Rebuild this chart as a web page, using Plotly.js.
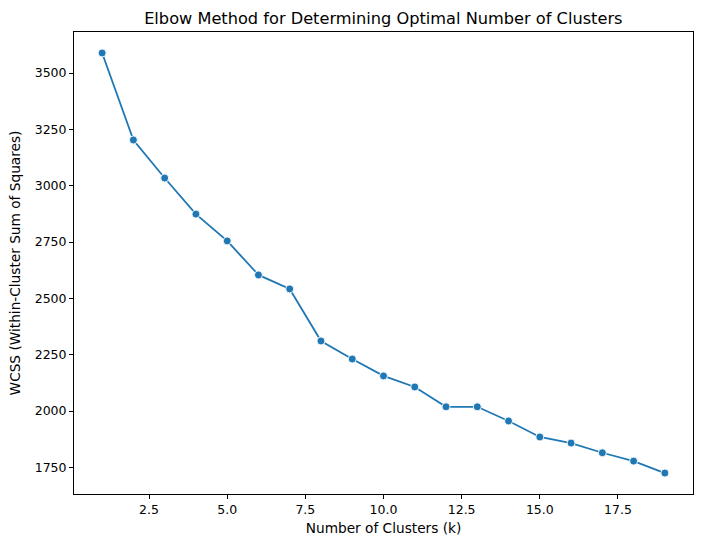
<!DOCTYPE html>
<html>
<head>
<meta charset="utf-8">
<script src="https://cdn.plot.ly/plotly-3.0.1.min.js"></script>
<style>html,body{margin:0;padding:0;background:#fff;}#chart{width:704px;height:547px;}</style>
</head>
<body>
<div id="chart"></div>
<script>
const clusters = [1,2,3,4,5,6,7,8,9,10,11,12,13,14,15,16,17,18,19];
const wcss = [3589,3203,3034,2874,2755,2604,2542,2311,2231,2156,2107,2019,2019,1956,1885,1858,1815,1778,1725];
const xTicks = [2.5,5.0,7.5,10.0,12.5,15.0,17.5];
const yTicks = [1750,2000,2250,2500,2750,3000,3250,3500];

const font = "DejaVu Sans, sans-serif";
const trace = {
  x: clusters, y: wcss, type: 'scatter', mode: 'lines+markers',
  line: {color: '#1f77b4', width: 1.8},
  marker: {color: '#1f77b4', size: 8, line: {color: '#ffffff', width: 0.9}},
  hoverinfo: 'skip'
};
const axisCommon = {
  showgrid: false, zeroline: false, showline: true, mirror: true,
  linecolor: '#000', linewidth: 1, ticks: 'outside', ticklen: 4, tickwidth: 1,
  tickcolor: '#000', tickfont: {family: font, size: 12.5, color: '#000'}
};
const layout = {
  width: 704, height: 547,
  margin: {l: 74, r: 11, t: 32, b: 53},
  paper_bgcolor: '#fff', plot_bgcolor: '#fff',
  showlegend: false,
  title: {text: 'Elbow Method for Determining Optimal Number of Clusters',
    font: {family: font, size: 16.2, color: '#000'}, x: 0.5445, xanchor: 'center', y: 0.966, yanchor: 'middle'},
  xaxis: Object.assign({}, axisCommon, {
    range: [0.1, 19.9], tickvals: xTicks, ticktext: xTicks.map(v => v.toFixed(1)),
    title: {text: 'Number of Clusters (k)', font: {family: font, size: 13.7, color: '#000'}, standoff: 7}
  }),
  yaxis: Object.assign({}, axisCommon, {
    range: [1632, 3682], tickvals: yTicks, ticktext: yTicks.map(String),
    title: {text: 'WCSS (Within-Cluster Sum of Squares)', font: {family: font, size: 13.7, color: '#000'}, standoff: 10}
  })
};
Plotly.newPlot('chart', [trace], layout, {displayModeBar: false, staticPlot: true});
</script>
</body>
</html>
